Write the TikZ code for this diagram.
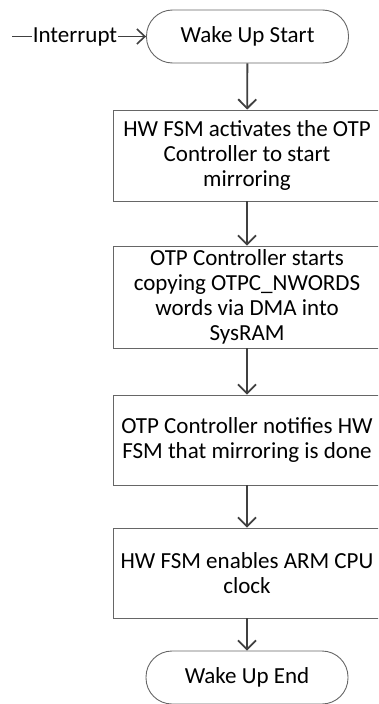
\documentclass[tikz,border=0pt]{standalone}
\usepackage{fontspec}
\setmainfont{Carlito}
\usetikzlibrary{arrows.meta}
\begin{document}
\begin{tikzpicture}[x=1pt,y=1pt,
  txt/.style={font=\fontsize{23}{25}\selectfont, text=black},
  boxst/.style={txt, draw=black!60, line width=0.9pt, minimum width=268pt, align=center, inner sep=0pt},
  termst/.style={txt, draw=black!60, line width=0.9pt, minimum width=202pt, minimum height=53pt, rounded corners=26pt, inner sep=0pt},
  flow/.style={draw=black!75, line width=1.8pt, -{Straight Barb[length=9pt,width=18pt,line width=1.8pt]}},
  iflow/.style={draw=black!75, line width=1.6pt, -{Straight Barb[length=8pt,width=15pt,line width=1.6pt]}}]
\useasboundingbox (0,0) rectangle (378,-704);
\clip (0,0) rectangle (378,-704);
\node[termst] (start) at (247.5,-36.5) {Wake Up Start};
\node[boxst, minimum height=91pt] (b1) at (247,-155.5) {HW FSM activates the OTP\\Controller to start\\mirroring};
\node[boxst, minimum height=102pt] (b2) at (247,-297) {OTP Controller starts\\copying OTPC\_NWORDS\\words via DMA into\\SysRAM};
\node[boxst, minimum height=90pt] (b3) at (247,-440) {OTP Controller notifies HW\\FSM that mirroring is done};
\node[boxst, minimum height=90pt] (b4) at (247,-573) {HW FSM enables ARM CPU\\clock};
\node[termst] (end) at (247,-677.5) {Wake Up End};
\coordinate (src) at (12,-36.5);
\node[txt, inner sep=1pt] (int) at (75,-36.5) {Interrupt};
\draw[draw=black!75, line width=1.6pt] (src) -- (int.west);
\draw[iflow] (int.east) -- (start.west);
\draw[flow] (start) -- (b1);
\draw[flow] (b1) -- (b2);
\draw[flow] (b2) -- (b3);
\draw[flow] (b3) -- (b4);
\draw[flow] (b4) -- (end);
\end{tikzpicture}
\end{document}
